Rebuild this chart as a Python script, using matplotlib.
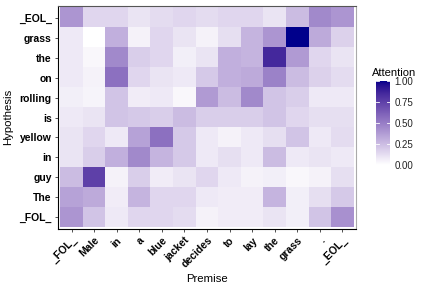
import numpy as np
import matplotlib
matplotlib.use('Agg')
import matplotlib.pyplot as plt
from matplotlib.colors import ListedColormap

plt.rcParams['font.family'] = ['Liberation Sans', 'DejaVu Sans']

premise = ['_FOL_', 'Male', 'in', 'a', 'blue', 'jacket', 'decides', 'to',
           'lay', 'the', 'grass', '.', '_EOL_']
# hypothesis rows listed bottom to top
hypothesis = ['_FOL_', 'The', 'guy', 'in', 'yellow', 'is', 'rolling', 'on',
              'the', 'grass', '_EOL_']

# attention weights, one row per hypothesis token (bottom to top)
att_fol = [0.40, 0.22, 0.08, 0.15, 0.15, 0.13, 0.05, 0.07, 0.07, 0.10, 0.06, 0.22, 0.42]
att_the1 = [0.35, 0.32, 0.07, 0.28, 0.15, 0.15, 0.08, 0.07, 0.07, 0.28, 0.06, 0.12, 0.20]
att_guy = [0.25, 0.75, 0.05, 0.18, 0.07, 0.10, 0.15, 0.08, 0.05, 0.06, 0.03, 0.05, 0.12]
att_in = [0.10, 0.18, 0.30, 0.45, 0.28, 0.20, 0.08, 0.12, 0.08, 0.25, 0.08, 0.10, 0.08]
att_yellow = [0.10, 0.15, 0.08, 0.35, 0.55, 0.20, 0.08, 0.05, 0.08, 0.12, 0.22, 0.08, 0.13]
att_is = [0.08, 0.10, 0.22, 0.20, 0.18, 0.25, 0.18, 0.18, 0.18, 0.22, 0.15, 0.12, 0.12]
att_rolling = [0.06, 0.04, 0.22, 0.07, 0.08, 0.03, 0.38, 0.25, 0.45, 0.22, 0.18, 0.08, 0.08]
att_on = [0.08, 0.05, 0.55, 0.15, 0.10, 0.08, 0.20, 0.30, 0.32, 0.48, 0.25, 0.17, 0.13]
att_the2 = [0.08, 0.03, 0.45, 0.18, 0.15, 0.06, 0.10, 0.30, 0.28, 0.85, 0.38, 0.15, 0.10]
att_grass = [0.08, 0.00, 0.30, 0.05, 0.15, 0.10, 0.05, 0.12, 0.28, 0.40, 1.00, 0.32, 0.17]
att_eol = [0.40, 0.15, 0.15, 0.10, 0.13, 0.15, 0.13, 0.15, 0.15, 0.10, 0.25, 0.45, 0.40]

data = np.array([att_fol, att_the1, att_guy, att_in, att_yellow, att_is,
                 att_rolling, att_on, att_the2, att_grass, att_eol])


# white -> darkblue gradient interpolated in Lab, like ggplot's scale_fill_gradient
def srgb_to_lab(rgb):
    rgb = np.asarray(rgb, dtype=float)
    lin = np.where(rgb <= 0.04045, rgb / 12.92, ((rgb + 0.055) / 1.055) ** 2.4)
    M = np.array([[0.4124, 0.3576, 0.1805],
                  [0.2126, 0.7152, 0.0722],
                  [0.0193, 0.1192, 0.9505]])
    xyz = M @ lin / np.array([0.95047, 1.0, 1.08883])
    f = np.where(xyz > 0.008856, np.cbrt(xyz), 7.787 * xyz + 16 / 116)
    return np.array([116 * f[1] - 16, 500 * (f[0] - f[1]), 200 * (f[1] - f[2])])


def lab_to_srgb(lab):
    L, a, b = lab
    fy = (L + 16) / 116
    fx = fy + a / 500
    fz = fy - b / 200
    f = np.array([fx, fy, fz])
    xyz = np.where(f ** 3 > 0.008856, f ** 3, (f - 16 / 116) / 7.787)
    xyz = xyz * np.array([0.95047, 1.0, 1.08883])
    Minv = np.array([[3.2406, -1.5372, -0.4986],
                     [-0.9689, 1.8758, 0.0415],
                     [0.0557, -0.2040, 1.0570]])
    lin = Minv @ xyz
    rgb = np.where(lin <= 0.0031308, 12.92 * lin, 1.055 * np.clip(lin, 0, None) ** (1 / 2.4) - 0.055)
    return np.clip(rgb, 0, 1)


lo = srgb_to_lab([1, 1, 1])
hi = srgb_to_lab([0, 0, 0x8B / 255])
cmap = ListedColormap([lab_to_srgb(lo + (hi - lo) * t) for t in np.linspace(0, 1, 256)])

fig = plt.figure(figsize=(4.27, 2.85), dpi=100)
ax = fig.add_axes([58 / 427, 1 - 229 / 285, 298 / 427, 223 / 285])
im = ax.imshow(data, cmap=cmap, vmin=0, vmax=1, aspect='auto', origin='lower',
               extent=(-0.5, 12.5, -0.5, 10.5))
ax.set_xlim(-0.6, 12.6)
ax.set_ylim(-0.6, 10.6)

ax.set_xticks(np.arange(len(premise)))
ax.set_xticklabels(premise, rotation=45, ha='right', rotation_mode='anchor',
                   fontsize=7.5, fontweight='bold')
ax.set_yticks(np.arange(len(hypothesis)))
ax.set_yticklabels(hypothesis, fontsize=7.5, fontweight='bold')
ax.tick_params(length=2.5, width=0.6, color='#333333', pad=2)
for s in ['left', 'bottom']:
    ax.spines[s].set_color('black')
    ax.spines[s].set_linewidth(0.8)
ax.spines['top'].set_color('#555555')
ax.spines['right'].set_color('#aaaaaa')
for s in ['top', 'right']:
    ax.spines[s].set_linewidth(0.8)

ax.set_xlabel('Premise', fontsize=8.2)
ax.xaxis.set_label_coords(0.5, -0.2)
fig.text(8 / 427, 1 - 117 / 285, 'Hypothesis', fontsize=8.2, rotation=90,
         va='center', ha='center')

cax = fig.add_axes([376 / 427, 1 - 165 / 285, 14 / 427, 84 / 285])
cb = fig.colorbar(im, cax=cax)
cb.outline.set_visible(False)
cb.set_ticks([0, 0.25, 0.5, 0.75, 1.0])
cb.set_ticklabels(['0.00', '0.25', '0.50', '0.75', '1.00'])
cax.tick_params(length=0, labelsize=7, pad=3, labelcolor='#222222')
for v in [0, 0.25, 0.5, 0.75, 1.0]:
    cax.plot([0, 0.2], [v, v], color='white', lw=0.6, transform=cax.get_yaxis_transform())
    cax.plot([0.8, 1], [v, v], color='white', lw=0.6, transform=cax.get_yaxis_transform())
fig.text(372 / 427, 1 - 73 / 285, 'Attention', fontsize=8, va='center', ha='left')

fig.savefig('out.png', dpi=100)
